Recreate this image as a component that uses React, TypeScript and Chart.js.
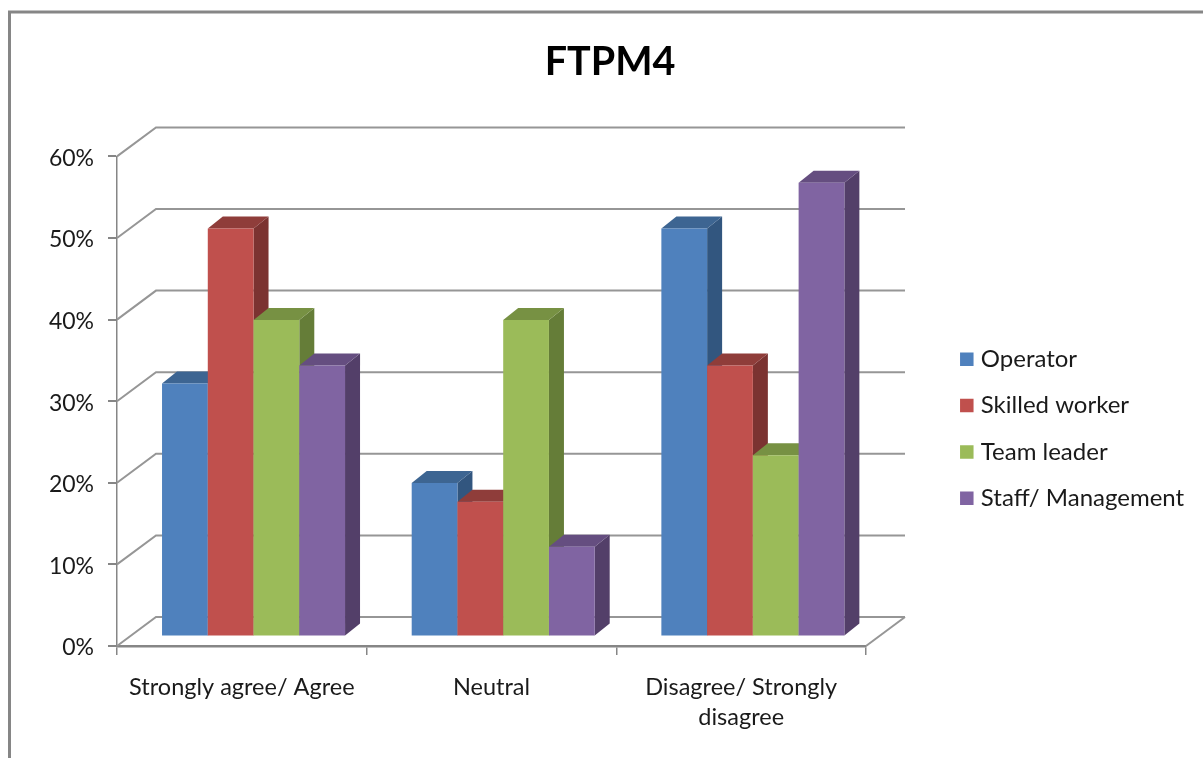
import React, { useEffect, useRef } from "react";
import { Chart, registerables } from "chart.js";

Chart.register(...registerables);

const categories = ["Strongly agree/ Agree", "Neutral", ["Disagree/ Strongly", "disagree"]];
const operator = [31, 18.8, 50];
const skilledWorker = [50, 16.5, 33.2];
const teamLeader = [38.8, 38.8, 22.2];
const staffManagement = [33.2, 11, 55.6];

const chartTitle = "FTPM4";
const seriesNames = ["Operator", "Skilled worker", "Team leader", "Staff/ Management"];
const frontColors = ["#4F81BD", "#C0504D", "#9BBB59", "#8064A2"];
const sideColors = ["#32567F", "#7B3331", "#657D38", "#533F69"];
const topColors = ["#3D6592", "#8F3D3A", "#779143", "#654E80"];

const FONT = "Lato, 'Noto Sans', sans-serif";
const AXIS_GREY = "#868686";

// Offset of the back wall from the front axes, and of the bars' front plane
const WALL = { dx: 39, dy: 29 };
const BAR_PLANE = { dx: 11.7, dy: 9.5 };
const BAR_DEPTH = { dx: 15, dy: 12 };

const pseudo3d = {
  id: "pseudo3d",
  beforeLayout(chart: any) {
    // The legend reserves a fixed strip so the plot ends at a fixed x.
    const legend = chart.legend;
    if (legend && !legend.__fixedStrip) {
      const fit = legend.fit;
      legend.fit = function () {
        fit.call(this);
        this.width = 337;
      };
      legend.__fixedStrip = true;
    }
  },
  afterLayout(chart: any) {
    chart.legend.left = 942.5;
    chart.legend.top = 325;
  },
  beforeDraw(chart: any) {
    const { ctx, width, height } = chart;
    ctx.save();
    ctx.fillStyle = "#ffffff";
    ctx.fillRect(0, 0, width, height);
    ctx.strokeStyle = AXIS_GREY;
    ctx.lineWidth = 3;
    ctx.beginPath();
    ctx.moveTo(9.5, height);
    ctx.lineTo(9.5, 12);
    ctx.lineTo(width, 12);
    ctx.stroke();
    ctx.restore();
  },
  beforeDatasetsDraw(chart: any) {
    const { ctx, chartArea } = chart;
    const yScale = chart.scales.y;

    // Back wall and floor grid lines
    ctx.save();
    ctx.strokeStyle = "#969696";
    ctx.lineWidth = 2;
    yScale.ticks.forEach((tick: any) => {
      const y = yScale.getPixelForValue(tick.value);
      ctx.beginPath();
      ctx.moveTo(chartArea.left, y);
      ctx.lineTo(chartArea.left + WALL.dx, y - WALL.dy);
      ctx.lineTo(chartArea.right + WALL.dx, y - WALL.dy);
      ctx.stroke();
    });
    const floorY = yScale.getPixelForValue(0);
    ctx.beginPath();
    ctx.moveTo(chartArea.right, floorY);
    ctx.lineTo(chartArea.right + WALL.dx, floorY - WALL.dy);
    ctx.stroke();
    ctx.restore();

    // Bars, series by series, so a later bar covers its neighbour's side face
    ctx.save();
    ctx.translate(BAR_PLANE.dx, -BAR_PLANE.dy);
    chart.data.datasets.forEach((_: any, i: number) => {
      const meta = chart.getDatasetMeta(i);
      meta.data.forEach((bar: any) => {
        const x1 = bar.x + bar.width / 2;
        const x0 = bar.x - bar.width / 2;
        const { y, base } = bar;
        const { dx, dy } = BAR_DEPTH;
        ctx.fillStyle = sideColors[i];
        ctx.beginPath();
        ctx.moveTo(x1, y);
        ctx.lineTo(x1 + dx, y - dy);
        ctx.lineTo(x1 + dx, base - dy);
        ctx.lineTo(x1, base);
        ctx.closePath();
        ctx.fill();
        ctx.fillStyle = topColors[i];
        ctx.beginPath();
        ctx.moveTo(x0, y);
        ctx.lineTo(x0 + dx, y - dy);
        ctx.lineTo(x1 + dx, y - dy);
        ctx.lineTo(x1, y);
        ctx.closePath();
        ctx.fill();
      });
      meta.controller.draw();
    });
    ctx.restore();
    return false;
  },
};

export default function App() {
  const canvasRef = useRef<HTMLCanvasElement | null>(null);

  useEffect(() => {
    const seriesValues = [operator, skilledWorker, teamLeader, staffManagement];
    const chart = new Chart(canvasRef.current as HTMLCanvasElement, {
      type: "bar",
      data: {
        labels: categories as any,
        datasets: seriesNames.map((label, i) => ({
          label,
          data: seriesValues[i],
          backgroundColor: frontColors[i],
          borderWidth: 0,
          categoryPercentage: 0.733,
          barPercentage: 1,
        })),
      },
      plugins: [pseudo3d as any],
      options: {
        responsive: false,
        animation: false,
        layout: { padding: { left: 17, right: 0, top: 0, bottom: 0 } },
        plugins: {
          tooltip: { enabled: false },
          title: {
            display: true,
            text: chartTitle,
            color: "#000000",
            font: { family: FONT, size: 39.5, weight: "bold", lineHeight: 1.2 },
            padding: { top: 39, bottom: 70 },
          },
          legend: {
            display: true,
            position: "right",
            align: "start",
            labels: {
              usePointStyle: true,
              pointStyle: "rect",
              boxWidth: 4,
              boxHeight: 13.5,
              padding: 22.3,
              color: "#1a1a1a",
              font: { family: FONT, size: 24 },
            },
          },
        },
        scales: {
          x: {
            afterFit(scale: any) {
              scale.height = 112;
            },
            grid: {
              drawOnChartArea: false,
              drawTicks: true,
              tickLength: 9,
              tickColor: AXIS_GREY,
              lineWidth: 1.5,
            },
            border: { display: true, color: AXIS_GREY, width: 2.5 },
            ticks: {
              color: "#1a1a1a",
              padding: 17,
              autoSkip: false,
              maxRotation: 0,
              font: { family: FONT, size: 23.5, lineHeight: 1.277 },
            },
          },
          y: {
            min: 0,
            max: 60,
            afterFit(scale: any) {
              scale.width = 100;
            },
            grid: {
              drawOnChartArea: false,
              drawTicks: true,
              tickLength: 9,
              tickColor: AXIS_GREY,
              lineWidth: 2,
            },
            border: { display: true, color: AXIS_GREY, width: 1.5 },
            ticks: {
              stepSize: 10,
              color: "#1a1a1a",
              padding: 14,
              labelOffset: 2,
              font: { family: FONT, size: 23 },
              callback: (v: any) => `${v}%`,
            },
          },
        },
      },
    });
    return () => chart.destroy();
  }, []);

  return (
    <div style={{ position: "absolute", left: 0, top: 0, width: 1203, height: 758 }}>
      <canvas ref={canvasRef} width={1203} height={758} style={{ display: "block" }} />
    </div>
  );
}
